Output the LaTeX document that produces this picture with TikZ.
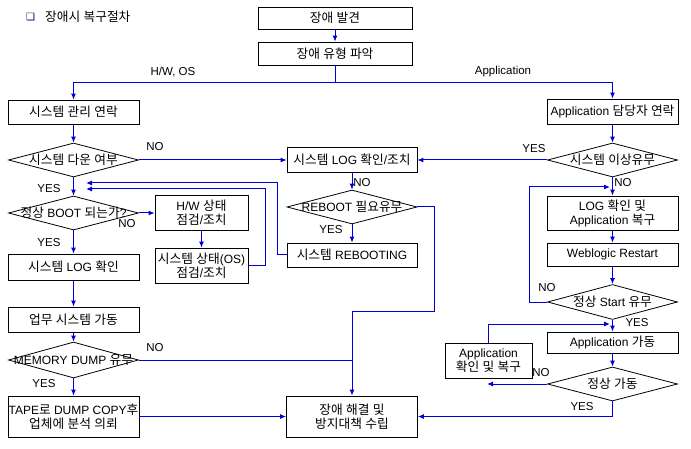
\documentclass[tikz,border=0pt]{standalone}
\usepackage{fontspec}
\setmainfont{Liberation Sans}
\newfontfamily\hangul{Noto Sans CJK KR}[Scale=1.06]
\newfontfamily\dingfont{DejaVu Sans}
\usetikzlibrary{shapes.geometric,arrows.meta}
% hangul syllables switch to the CJK family by themselves
\XeTeXinterchartokenstate=1
\newXeTeXintercharclass\hangulclass
\newcount\hc
\hc="AC00
\loop\ifnum\hc<"D7A4
  \XeTeXcharclass\hc=\hangulclass
  \advance\hc by 1
\repeat
\hc=0
\loop\ifnum\hc<\hangulclass
  \XeTeXinterchartoks\hc\hangulclass={\begingroup\hangul}
  \XeTeXinterchartoks\hangulclass\hc={\endgroup}
  \advance\hc by 1
\repeat
\XeTeXinterchartoks 4095 \hangulclass={\begingroup\hangul}
\XeTeXinterchartoks \hangulclass 4095={\endgroup}

\tikzset{>={Latex[length=6pt,width=5pt]}}
\colorlet{linkblue}{blue!85!black}
\colorlet{markblue}{blue!40!black}
\tikzstyle{box}=[rectangle,draw,line width=.8,minimum width=131,minimum height=24,inner sep=0]
\tikzstyle{dia}=[diamond,draw,line width=.8,minimum width=130,minimum height=34,inner sep=0,aspect=1]
\tikzstyle{line}=[linkblue,line width=1]
\tikzstyle{flow}=[line,->]
\tikzstyle{tag}=[inner sep=0,font=\fontsize{11.5}{13}\selectfont]
\def\dtext#1{\makebox[0pt]{#1}}

\begin{document}
\begin{tikzpicture}[x=1pt,y=-1pt,font=\fontsize{12}{14}\selectfont]
  \useasboundingbox (0,0) rectangle (691,449);

  % TITLE
  \node[anchor=west,inner sep=0,markblue] (mark) at (26,17.5) {\dingfont\fontsize{10}{10}\selectfont ❏};
  \node[anchor=west,inner sep=0] (title) at (45,17) {장애시 복구절차};

  % TOP
  \node[box,minimum width=154,minimum height=22] (found) at (335,18) {장애 발견};
  \node[box,minimum width=154,minimum height=23] (kind) at (335,53.5) {장애 유형 파악};
  \coordinate (split) at (335,83);

  % H/W, OS
  \node[box] (hwcall) at (73.5,112) {시스템 관리 연락};
  \node[dia] (down) at (73.5,160) {\dtext{시스템 다운 여부}};
  \node[dia] (boot) at (73.5,213) {\dtext{정상 BOOT 되는가?}};
  \node[box,minimum width=93,minimum height=35,align=center] (hwchk) at (201.5,213) {H/W 상태\\점검/조치};
  \node[box,minimum width=93,minimum height=35,align=center] (oschk) at (201.5,265.5) {시스템 상태(OS)\\점검/조치};
  \node[box,minimum height=26] (syslog) at (73.5,267) {시스템 LOG 확인};
  \node[box,minimum height=25] (run) at (73.5,319.5) {업무 시스템 가동};
  \node[dia,minimum height=36] (dump) at (73.5,360) {\dtext{MEMORY DUMP 유무}};
  \node[box,minimum height=41,align=center] (tape) at (73.5,416.5) {TAPE로 DUMP COPY후\\업체에 분석 의뢰};
  \coordinate (back1) at (86,183);
  \coordinate (back2) at (86,189);

  % SYSTEM LOG
  \node[box,minimum width=130,minimum height=25] (logfix) at (352,160) {시스템 LOG 확인/조치};
  \node[dia] (reboot) at (352,207) {\dtext{REBOOT 필요유무}};
  \node[box,minimum width=130] (rebooting) at (352,255) {시스템 REBOOTING};
  \node[box,minimum height=41,align=center] (fix) at (352,416.5) {장애 해결 및\\방지대책 수립};
  \coordinate (join) at (352,360);
  \coordinate (merge) at (352,311);

  % APPLICATION
  \node[box,minimum height=25] (appcall) at (612.5,111.5) {Application 담당자 연락};
  \node[dia] (apperr) at (612.5,160) {\dtext{시스템 이상유무}};
  \node[box,minimum height=34,align=center] (applog) at (612.5,213) {LOG 확인 및\\Application 복구};
  \node[box,minimum height=23] (weblogic) at (612.5,254.5) {Weblogic Restart};
  \node[dia,minimum height=35] (start) at (612.5,302) {\dtext{정상 Start 유무}};
  \node[box,minimum height=21] (apprun) at (612.5,342.5) {Application 가동};
  \node[dia] (ok) at (612.5,384) {\dtext{정상 가동}};
  \node[box,minimum width=87,minimum height=35,align=center] (appfix) at (488.5,360.5) {Application\\확인 및 복구};
  \coordinate (retry) at (610,187);
  \coordinate (rejoin) at (610,324);
  \coordinate (redo) at (487,384);

  % LINKS
  \draw[flow] (found) -- (kind);
  \draw[flow] (kind.south) -- (split) -| (hwcall.north);
  \draw[flow] (split) -| (appcall.north);
  \draw[flow] (hwcall) -- (down);
  \draw[flow] (down) -- (logfix);
  \draw[flow] (down) -- (boot);
  \draw[flow] (boot) -- (hwchk);
  \draw[flow] (boot) -- (syslog);
  \draw[flow] (hwchk) -- (oschk);
  \draw[flow] (oschk.east) -- ++(17,0) |- (back2);
  \draw[flow] (rebooting.west) -- ++(-9,0) |- (back1);
  \draw[flow] (syslog) -- (run);
  \draw[flow] (run) -- (dump);
  \draw[line] (dump.east) -- (join);
  \draw[flow] (dump) -- (tape);
  \draw[flow] (tape) -- (fix);
  \draw[flow] (logfix) -- (reboot);
  \draw[flow] (reboot) -- (rebooting);
  \draw[flow] (reboot.east) -- ++(17,0) |- (merge) -- (fix.north);
  \draw[flow] (appcall) -- (apperr);
  \draw[flow] (apperr) -- (logfix);
  \draw[flow] (apperr) -- (applog);
  \draw[flow] (applog) -- (weblogic);
  \draw[flow] (weblogic) -- (start);
  \draw[flow] (start.west) -- ++(-18,0) |- (retry);
  \draw[flow] (start) -- (apprun);
  \draw[flow] (apprun) -- (ok);
  \draw[flow] (ok.west) -- (redo);
  \draw[flow] (appfix.north) |- (rejoin);
  \draw[flow] (ok.south) |- (fix.east);

  % LABELS
  \node[tag] (lhw) at (173,72) {H/W, OS};
  \node[tag] (lapp) at (503,72) {Application};
  \node[tag] (no1) at (155,147) {NO};
  \node[tag] (yes1) at (49,189) {YES};
  \node[tag] (no2) at (127,224) {NO};
  \node[tag] (yes2) at (49,243) {YES};
  \node[tag] (no3) at (155,348) {NO};
  \node[tag] (yes3) at (44,384) {YES};
  \node[tag] (no4) at (362,183) {NO};
  \node[tag] (yes4) at (331,230) {YES};
  \node[tag] (yes5) at (534,149) {YES};
  \node[tag] (no5) at (623,183) {NO};
  \node[tag] (no6) at (547,288) {NO};
  \node[tag] (yes6) at (637,323) {YES};
  \node[tag] (no7) at (541,373) {NO};
  \node[tag] (yes7) at (582,407) {YES};
\end{tikzpicture}
\end{document}
